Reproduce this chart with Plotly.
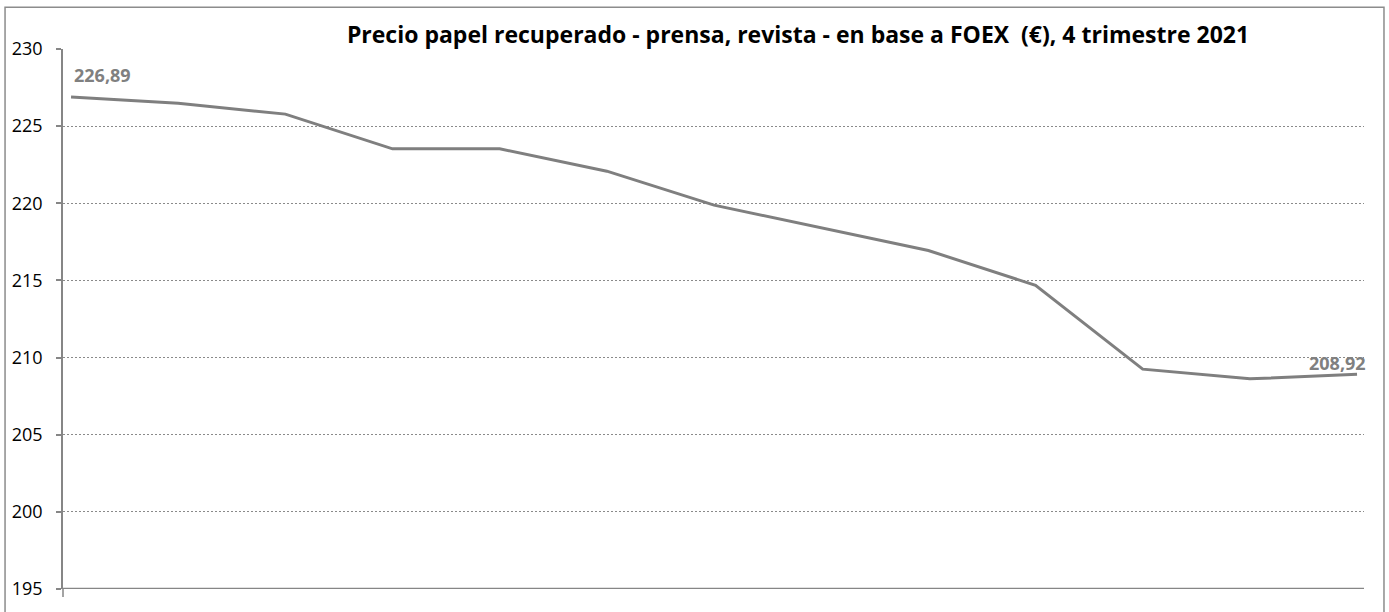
import plotly.graph_objects as go

# Data
periods = list(range(13))
prices = [226.89, 226.48, 225.78, 223.53, 223.53, 222.08, 219.88,
          218.42, 216.94, 214.68, 209.25, 208.62, 208.92]
y_ticks = [195, 200, 205, 210, 215, 220, 225, 230]
title_text = "Precio papel recuperado - prensa, revista - en base a FOEX  (€), 4 trimestre 2021"

GRAY = "#7f7f7f"
FONT = "Open Sans, Liberation Sans, sans-serif"

def fmt(v):
    return f"{v:.2f}".replace(".", ",")

fig = go.Figure()
fig.add_trace(go.Scatter(
    x=periods, y=prices, mode="lines",
    line=dict(color=GRAY, width=3),
    hoverinfo="skip", showlegend=False,
))

annotations = [
    dict(x=periods[0], y=prices[0], xref="x", yref="y", text=f"<b>{fmt(prices[0])}</b>",
         showarrow=False, xanchor="left", yanchor="middle", xshift=1, yshift=22,
         font=dict(family=FONT, size=18, color="#808080")),
    dict(x=periods[-1], y=prices[-1], xref="x", yref="y", text=f"<b>{fmt(prices[-1])}</b>",
         showarrow=False, xanchor="right", yanchor="middle", xshift=11, yshift=11,
         font=dict(family=FONT, size=18, color="#808080")),
]

fig.update_layout(
    width=1389, height=612,
    margin=dict(l=62, r=25, t=49, b=19),
    paper_bgcolor="white", plot_bgcolor="white",
    font=dict(family=FONT, size=18, color="black"),
    title=dict(text=f"<b>{title_text}</b>", x=(798 / 1389), xanchor="center",
               y=1 - 35 / 612, yanchor="middle",
               font=dict(family=FONT, size=23, color="black")),
    xaxis=dict(range=[-0.075, 12.065], showticklabels=False, showgrid=False,
               zeroline=False, showline=False, ticks=""),
    yaxis=dict(range=[195, 230], tickvals=y_ticks, ticks="outside", ticklen=5,
               tickcolor="#868686", tickwidth=1.5,
               showline=True, linecolor="#868686", linewidth=1.5,
               showgrid=True, gridcolor="#8a8a8a", griddash="2px,2px", gridwidth=1,
               zeroline=False, tickfont=dict(family=FONT, size=18, color="black"),
               ticklabelstandoff=10),
    annotations=annotations,
    shapes=[
        # x axis baseline
        dict(type="line", xref="paper", yref="y", x0=0, x1=1, y0=195, y1=195,
             line=dict(color="#868686", width=2.5)),
        # small tick below the axis corner
        dict(type="line", xref="paper", yref="paper", x0=0, x1=0, y0=0, y1=-8 / 544,
             line=dict(color="#868686", width=1.5)),
        # outer chart border
        dict(type="rect", xref="paper", yref="paper",
             x0=(4 - 62) / 1302, x1=(1384 - 62) / 1302,
             y0=(593 - 640) / 544, y1=(593 - 7) / 544,
             line=dict(color="#8c8c8c", width=1.5)),
    ],
)

fig.write_html("out.html", config={"displayModeBar": False},
               post_script="document.body.style.margin='0';document.body.style.overflow='hidden';")
